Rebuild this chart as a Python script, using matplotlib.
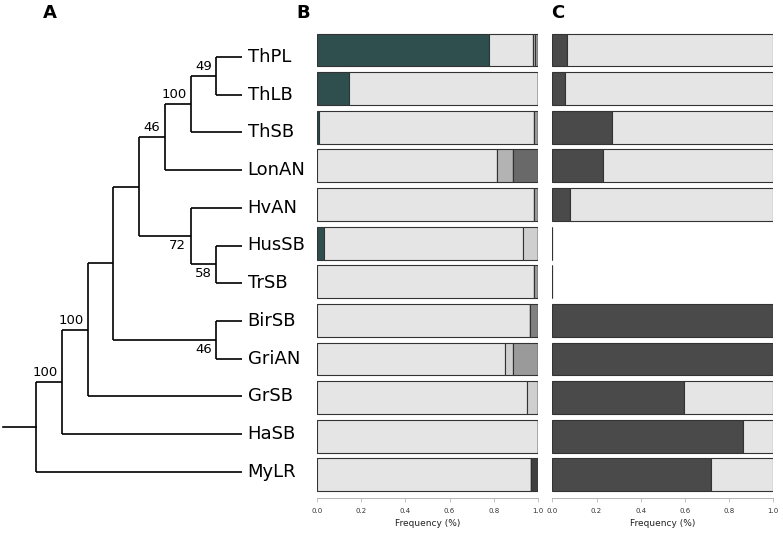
import matplotlib
matplotlib.use("Agg")
import matplotlib.pyplot as plt
import numpy as np

# taxa, top to bottom
taxa = ["ThPL", "ThLB", "ThSB", "LonAN", "HvAN", "HusSB", "TrSB",
        "BirSB", "GriAN", "GrSB", "HaSB", "MyLR"]

# tree: internal node -> (depth, children); leaves are taxon indices
tree_nodes = {
    "n1": (0, ["n2", 11]),
    "n2": (1, ["n3", 10]),
    "n3": (2, ["n4", 9]),
    "n4": (3, ["n5", "nBG"]),
    "n5": (4, ["n6", "nHv"]),
    "n6": (5, ["n7", 3]),
    "n7": (6, ["n8", 2]),
    "n8": (7, [0, 1]),
    "nHv": (6, [4, "nHT"]),
    "nHT": (7, [5, 6]),
    "nBG": (7, [7, 8]),
}
leaf_depth = 8
root_stub = -1.27
# support values: node -> (value, placed above branch?)
support = {
    "n2": (100, True), "n3": (100, True), "n6": (46, True),
    "n7": (100, True), "n8": (49, True),
    "nHv": (72, False), "nHT": (58, False), "nBG": (46, False),
}

# panel B: haplotype frequencies (stacked, left to right)
b_teal   = [0.777, 0.146, 0.010, 0, 0, 0.030, 0, 0, 0, 0, 0, 0]
b_light  = [0.200, 0.854, 0.973, 0.813, 0.983, 0.904, 0.980, 0.965, 0.852, 0.952, 1.0, 0.968]
b_pale   = [0, 0, 0, 0, 0, 0.066, 0, 0, 0.036, 0.048, 0, 0]
b_silver = [0.008, 0, 0, 0.075, 0, 0, 0, 0, 0, 0, 0, 0]
b_grey   = [0.015, 0, 0.017, 0, 0.017, 0, 0.020, 0, 0.112, 0, 0, 0]
b_gray   = [0, 0, 0, 0, 0, 0, 0, 0.035, 0, 0, 0, 0]
b_dim    = [0, 0, 0, 0.112, 0, 0, 0, 0, 0, 0, 0, 0]
b_dark   = [0, 0, 0, 0, 0, 0, 0, 0, 0, 0, 0, 0.032]

# panel C
c_dark  = [0.065, 0.059, 0.272, 0.228, 0.079, 0, 0, 1.0, 1.0, 0.596, 0.861, 0.717]
c_light = [0.935, 0.941, 0.728, 0.772, 0.921, 0, 0, 0, 0, 0.404, 0.139, 0.283]

W, H = 783, 533
fig = plt.figure(figsize=(W / 100, H / 100), dpi=100)

# ---------- tree ----------
axt = fig.add_axes([0, 0, 317 / W, 1])
step = 25.75
axt.set_xlim(-36 / step, (317 - 36) / step)
axt.set_ylim((H - 57) / 37.7, -57 / 37.7)
axt.axis("off")

node_y = {}

def y_of(n):
    if isinstance(n, int):
        return n
    if n not in node_y:
        node_y[n] = np.mean([y_of(c) for c in tree_nodes[n][1]])
    return node_y[n]

def x_of(n):
    return leaf_depth if isinstance(n, int) else tree_nodes[n][0]

lw = 1.2
for name, (d, kids) in tree_nodes.items():
    ys = [y_of(k) for k in kids]
    axt.plot([d, d], [min(ys), max(ys)], color="black", lw=lw, solid_capstyle="butt")
    for k in kids:
        axt.plot([d, x_of(k)], [y_of(k), y_of(k)], color="black", lw=lw, solid_capstyle="butt")
axt.plot([root_stub, 0], [y_of("n1"), y_of("n1")], color="black", lw=lw)

for i, t in enumerate(taxa):
    axt.annotate(t, (leaf_depth, i), xytext=(4, 0), textcoords="offset points",
                 ha="left", va="center", fontsize=13)

for name, (val, above) in support.items():
    axt.annotate(str(val), (x_of(name), y_of(name)),
                 xytext=(-3, 2 if above else -2), textcoords="offset points",
                 ha="right", va="bottom" if above else "top", fontsize=9.5)

# ---------- bar panels ----------
ypos = np.arange(len(taxa))
edge = "#333333"

def bar_axes(left):
    ax = fig.add_axes([left / W, 1 - 498 / H, 221 / W, (498 - 30.7) / H])
    ax.set_xlim(0, 1)
    ax.set_ylim(11.6, -0.5)
    for s in ["left", "right", "top"]:
        ax.spines[s].set_visible(False)
    ax.spines["bottom"].set_color("#aaaaaa")
    ax.spines["bottom"].set_linewidth(0.6)
    ax.set_yticks([])
    ax.set_xticks(np.arange(0, 1.01, 0.2))
    ax.tick_params(axis="x", labelsize=5, colors="#aaaaaa", labelcolor="#333333",
                   length=3, width=0.5, pad=4)
    ax.set_xlabel("Frequency (%)", fontsize=6.5, color="#222222", labelpad=4)
    return ax

axb = bar_axes(317)
left = np.zeros(len(taxa))
for vals, col in [(b_teal, "#2f4f4f"), (b_light, "#e5e5e5"), (b_pale, "#cfcfcf"),
                  (b_silver, "#b3b3b3"), (b_grey, "#9a9a9a"), (b_gray, "#808080"),
                  (b_dim, "#696969"), (b_dark, "#404040")]:
    axb.barh(ypos, vals, left=left, height=0.85, color=col, edgecolor=edge, linewidth=0.8)
    left += np.array(vals)

axc = bar_axes(552.3)
left = np.zeros(len(taxa))
for vals, col in [(c_dark, "#4a4a4a"), (c_light, "#e5e5e5")]:
    axc.barh(ypos, vals, left=left, height=0.85, color=col, edgecolor=edge, linewidth=0.8)
    left += np.array(vals)

for lab, x in [("A", 50), ("B", 303), ("C", 558)]:
    fig.text(x / W, 1 - 13 / H, lab, fontsize=13, fontweight="bold", ha="center", va="center")

fig.savefig("out.png", dpi=100)
